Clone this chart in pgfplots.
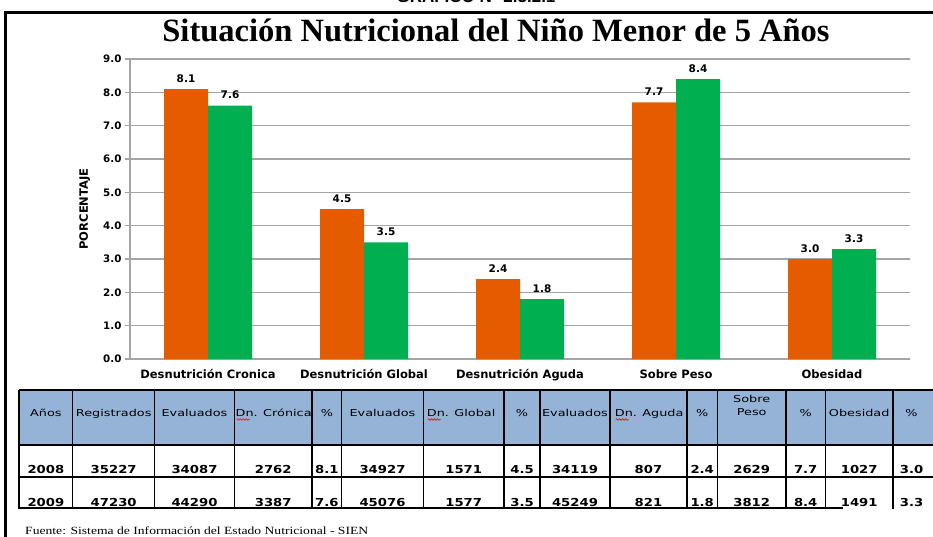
\documentclass[border=0pt]{standalone}
\usepackage{pgfplots}
\pgfplotsset{compat=1.18}
\usepackage{fontspec}
\setmainfont{Liberation Serif}
\newfontfamily\dv{DejaVu Sans}
\newfontfamily\ls{Liberation Sans}
\usetikzlibrary{decorations.pathmorphing}
\definecolor{barorange}{RGB}{229,92,0}
\definecolor{bargreen}{RGB}{0,176,80}
\definecolor{hdrblue}{RGB}{149,179,215}
\definecolor{gridgray}{RGB}{165,165,165}
\newcommand{\hx}[1]{\scalebox{1.35}[1]{\dv\fontsize{9.5}{11}\selectfont #1}}
\newcommand{\nx}[1]{\scalebox{1.2}[1]{\dv\bfseries\fontsize{11}{12}\selectfont #1}}
\begin{document}
\begin{tikzpicture}[x=1pt,y=1pt]
\useasboundingbox (0,0) rectangle (933,-537);
% outer frame
\draw[line width=3pt] (5,-545) -- (5,-12.5) -- (945,-12.5);
% partially visible caption
\node[anchor=base, inner sep=0, font=\ls\bfseries\fontsize{17}{18}\selectfont] at (476,-3) {GRAFICO N° 2.3.2.1};
% title
\node[anchor=base, inner sep=0, font=\bfseries\fontsize{32.5}{34}\selectfont] at (496,-42) {Situación Nutricional del Niño Menor de 5 Años};

\begin{axis}[
  at={(130pt,-359pt)}, anchor=south west,
  width=780pt, height=300pt, scale only axis,
  xmin=-0.5, xmax=4.5, ymin=0, ymax=9,
  ybar=0pt, bar width=44pt,
  xtick={0,1,2,3,4},
  xticklabels={Desnutrición Cronica, Desnutrición Global, Desnutrición Aguda, Sobre Peso, Obesidad},
  ytick={0,1,2,3,4,5,6,7,8,9},
  axis x line*=bottom, axis y line*=left,
  axis line style={gridgray, line width=1.5pt, -},
  ymajorgrids, grid style={gridgray, line width=1.5pt},
  x tick style={draw=none},
  y tick style={gridgray, line width=1.5pt},
  major tick length=5pt, tick align=outside,
  yticklabel style={font=\dv\bfseries\fontsize{10.3}{12}\selectfont,
    /pgf/number format/fixed, /pgf/number format/fixed zerofill,
    /pgf/number format/precision=1, /pgf/number format/assume math mode=true},
  xticklabel style={font=\dv\bfseries\fontsize{11.5}{13}\selectfont, yshift=-2pt},
  ylabel={PORCENTAJE},
  ylabel style={font=\dv\bfseries\fontsize{11.5}{13}\selectfont,
    at={(axis description cs:-0.058,0.5)}, anchor=center},
  nodes near coords,
  every node near coord/.append style={font=\dv\bfseries\fontsize{10.5}{12}\selectfont,
    /pgf/number format/fixed, /pgf/number format/fixed zerofill,
    /pgf/number format/precision=1, /pgf/number format/assume math mode=true,
    black, yshift=3pt},
  clip=false,
]
\addplot[fill=barorange, draw=none] coordinates {(0,8.1) (1,4.5) (2,2.4) (3,7.7) (4,3.0)};
\addplot[fill=bargreen, draw=none] coordinates {(0,7.6) (1,3.5) (2,1.8) (3,8.4) (4,3.3)};
\end{axis}

% table
\fill[hdrblue] (19,-390) rectangle (940,-445);
\foreach \y in {390,445,477} \draw[line width=1.3pt] (19,-\y) -- (940,-\y);
\draw[line width=1.3pt] (19,-508) -- (843,-508);
\draw[line width=2pt] (19,-390) -- (19,-509);
\foreach \x in {72.7,154.7,234.3,312,341.7,423.3,504,540,610,687,717.3,786,825.3,893}
  \draw[line width=1.3pt] (\x,-390) -- (\x,-509);
% header
\foreach \x/\t in {45.9/Años, 113.7/Registrados, 194.5/Evaluados, 326.9/\%, 382.5/Evaluados,
   522/\%, 575/Evaluados, 702.2/\%, 805.7/\%, 859.2/Obesidad, 911.5/\%}
  \node[anchor=base, inner sep=0] at (\x,-416.5) {\hx{\t}};
\node[anchor=base west, inner sep=0] at (235.5,-416.5) {\hx{Dn. Crónica}};
\node[anchor=base west, inner sep=0] at (426.7,-416.5) {\hx{Dn. Global}};
\node[anchor=base west, inner sep=0] at (614.7,-416.5) {\hx{Dn. Aguda}};
\node[anchor=base, inner sep=0] at (751.7,-402.3) {\hx{Sobre}};
\node[anchor=base, inner sep=0] at (751.7,-415.7) {\hx{Peso}};
\foreach \x in {235.5,426.7,614.7}
  \draw[red, line width=0.6pt, decorate, decoration={snake, amplitude=0.8pt, segment length=3pt}]
    (\x+1,-419.5) -- (\x+14,-419.5);
% rows
\foreach \x/\t in {45.9/2008, 113.7/35227, 194.5/34087, 273.2/2762, 326.9/8.1, 382.5/34927,
   463.7/1571, 522/4.5, 575/34119, 648.5/807, 702.2/2.4, 751.7/2629, 805.7/7.7, 859.2/1027, 911.5/3.0}
  \node[anchor=base, inner sep=0] at (\x,-473.3) {\nx{\t}};
\foreach \x/\t in {45.9/2009, 113.7/47230, 194.5/44290, 273.2/3387, 326.9/7.6, 382.5/45076,
   463.7/1577, 522/3.5, 575/45249, 648.5/821, 702.2/1.8, 751.7/3812, 805.7/8.4, 859.2/1491, 911.5/3.3}
  \node[anchor=base, inner sep=0] at (\x,-506) {\nx{\t}};
% footer
\node[anchor=base west, inner sep=0] at (25,-534.5)
  {\resizebox{343pt}{\height}{\fontsize{11}{12}\selectfont Fuente: Sistema de Información del Estado Nutricional - SIEN}};
\end{tikzpicture}
\end{document}
